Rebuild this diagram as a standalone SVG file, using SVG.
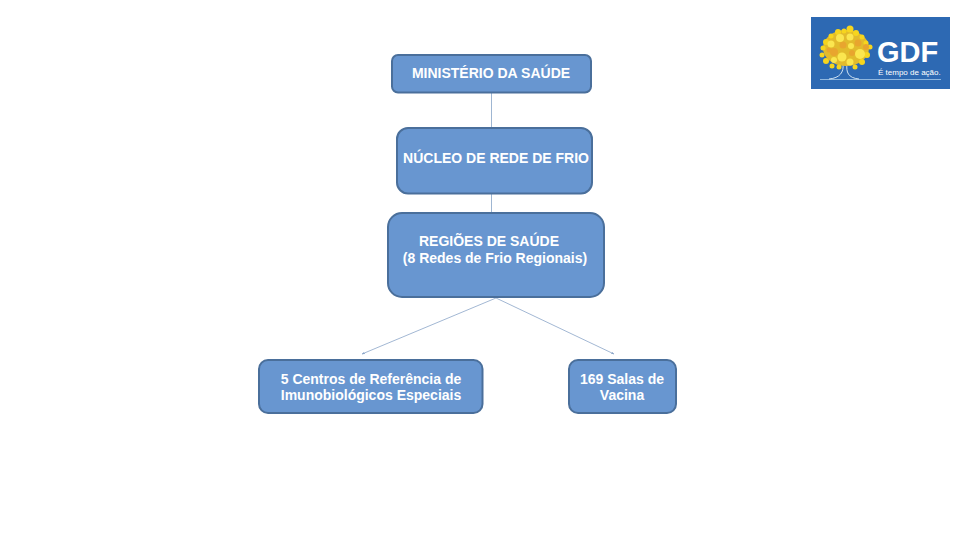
<svg xmlns="http://www.w3.org/2000/svg" width="960" height="540" viewBox="0 0 960 540">
<style>
.box{fill:#6896d0;stroke:#4a6f9b;stroke-width:2}
.t{font-family:"Liberation Sans",Arial,sans-serif;font-weight:700;font-size:14px;fill:#fff;text-anchor:middle}
.c{stroke:#9fb6d2;stroke-width:1;fill:none}
.d{stroke:#8aa5c8;stroke-width:.8;fill:none;marker-end:url(#a)}
.y{fill:#f6d51e}.o{fill:#e8a52e}.l{fill:#fbe64f}
.w{font-family:"Liberation Sans",Arial,sans-serif;fill:#fff}
</style>
<defs><marker id="a" markerWidth="4" markerHeight="4" refX="3.500" refY="2" orient="auto"><path d="M0 .6L4 2L0 3.400Z" fill="#8aa5c8"/></marker></defs>
<rect width="960" height="540" fill="#fff"/>
<g id="connectors">
<path class="c" d="M491.500 93V128M491.500 194V213"/>
<path class="d" d="M496 298L362 354"/>
<path class="d" d="M496 298L614 354"/>
</g>
<g id="n1"><rect class="box" x="392" y="55" width="199" height="37.500" rx="6"/><text class="t" x="491" y="78">MINISTÉRIO DA SAÚDE</text></g>
<g id="n2"><rect class="box" x="397" y="128" width="195" height="65.500" rx="11"/><text class="t" x="496" y="163">NÚCLEO DE REDE DE FRIO</text></g>
<g id="n3"><rect class="box" x="388" y="213" width="216" height="84" rx="14"/><text class="t" x="489" y="246">REGIÕES DE SAÚDE</text><text class="t" x="495" y="263">(8 Redes de Frio Regionais)</text></g>
<g id="n4"><rect class="box" x="259" y="360" width="223.500" height="53" rx="9"/><text class="t" x="371" y="384">5 Centros de Referência de</text><text class="t" x="371" y="400">Imunobiológicos Especiais</text></g>
<g id="n5"><rect class="box" x="569" y="360" width="107" height="53" rx="9"/><text class="t" x="622" y="384">169 Salas de</text><text class="t" x="622" y="400">Vacina</text></g>
<g id="logo">
<rect x="811" y="17" width="139" height="72" fill="#2d69b3"/>
<path d="M820 79.500H941" stroke="#a9cbe8" stroke-width=".8" fill="none"/>
<path d="M829 79C840 78 844 72 843 64M859 79C848 78 846 72 847 64" stroke="#cfe2f2" stroke-width="1" fill="none"/>
<ellipse cx="846" cy="48" rx="23" ry="18" fill="#e2bb2c"/>
<g class="y"><circle cx="838" cy="32" r="3"/><circle cx="844" cy="31" r="2.500"/><circle cx="850" cy="29" r="3.500"/><circle cx="856" cy="33" r="3"/><circle cx="862" cy="37" r="2.500"/><circle cx="831" cy="36" r="2.500"/><circle cx="826" cy="42" r="3"/><circle cx="823" cy="48" r="2.500"/><circle cx="822" cy="55" r="2.500"/><circle cx="826" cy="61" r="3"/><circle cx="832" cy="66" r="2.500"/><circle cx="839" cy="67" r="2.500"/><circle cx="866" cy="43" r="2.500"/><circle cx="870" cy="47" r="2.500"/><circle cx="867" cy="55" r="3"/><circle cx="862" cy="62" r="3"/><circle cx="855" cy="67" r="2.500"/></g>
<g class="o"><circle cx="834" cy="52" r="4"/><circle cx="843" cy="45" r="3.500"/><circle cx="858" cy="43" r="3.500"/><circle cx="852" cy="53" r="3"/><circle cx="829" cy="50" r="2.500"/><circle cx="866" cy="47" r="3"/></g>
<g class="l"><circle cx="840" cy="38" r="4"/><circle cx="850" cy="37" r="3.500"/><circle cx="831" cy="44" r="3.500"/><circle cx="860" cy="54" r="5"/><circle cx="842" cy="57" r="4.500"/><circle cx="851" cy="46" r="3"/><circle cx="834" cy="60" r="3"/><circle cx="850" cy="62" r="3.500"/></g>
<text class="w" x="877" y="62" font-size="29" font-weight="700">GDF</text>
<text class="w" x="878" y="74.500" font-size="8">É tempo de ação.</text>
</g>
</svg>
